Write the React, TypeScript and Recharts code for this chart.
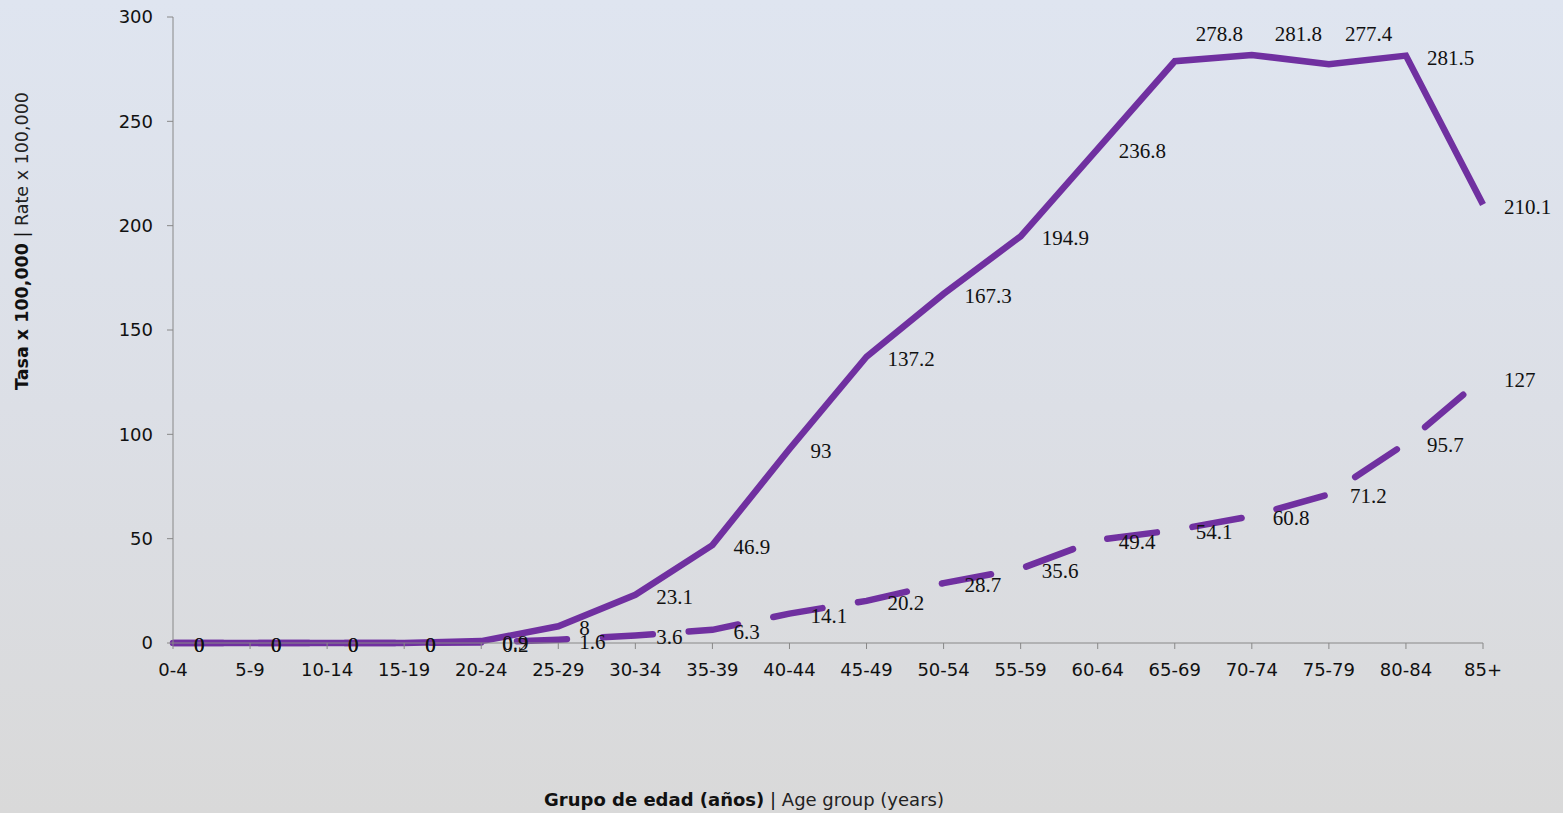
import React from "react";
import { LineChart, Line, XAxis, YAxis } from "recharts";

const categories = ["0-4", "5-9", "10-14", "15-19", "20-24", "25-29", "30-34", "35-39", "40-44", "45-49", "50-54", "55-59", "60-64", "65-69", "70-74", "75-79", "80-84", "85+"];
const solidValues = [0, 0, 0, 0, 0.9, 8, 23.1, 46.9, 93, 137.2, 167.3, 194.9, 236.8, 278.8, 281.8, 277.4, 281.5, 210.1];
const dashedValues = [0, 0, 0, 0, 0.2, 1.6, 3.6, 6.3, 14.1, 20.2, 28.7, 35.6, 49.4, 54.1, 60.8, 71.2, 95.7, 127];
const yTicks = [0, 50, 100, 150, 200, 250, 300];

const data = categories.map((c, i) => ({ cat: c, solid: solidValues[i], dashed: dashedValues[i] }));

const PURPLE = "#7030A0";
const AXIS = "#888888";
const TICK_FONT = "'DejaVu Sans', sans-serif";
const LABEL_FONT = "'Liberation Serif', 'Times New Roman', serif";

// label shifts for the plateau labels of the solid series (style only)
const solidLabelDy: Record<number, number> = { 13: -29, 14: -23, 15: -32 };
const solidLabelDx: Record<number, number> = { 14: 2, 15: -5 };

const makeLabel = (dyMap: Record<number, number>, dxMap: Record<number, number>) => (props: any) => {
  const { x, y, value, index } = props;
  const dy = dyMap[index] ?? 0;
  const dx = dxMap[index] ?? 0;
  return (
    <text
      x={x + 21 + dx}
      y={y + 9 + dy}
      textAnchor="start"
      fontFamily={LABEL_FONT}
      fontSize={21}
      fill="#111"
    >
      {value}
    </text>
  );
};

const XTitle = () => {
  return (
    <text x={744} y={806} textAnchor="middle" fontFamily={TICK_FONT} fontSize={18} fill="#111">
      <tspan fontWeight="bold">Grupo de edad (años)</tspan>
      <tspan fontWeight="normal">{"  |  "}</tspan>
      <tspan fontWeight="normal" fill="#222">Age group (years)</tspan>
    </text>
  );
};

const YTitle = () => {
  const cx = 28;
  const cy = 241;
  return (
    <text
      x={cx}
      y={cy}
      transform={`rotate(-90 ${cx} ${cy})`}
      textAnchor="middle"
      fontFamily={TICK_FONT}
      fontSize={17.5}
      fill="#111"
    >
      <tspan fontWeight="bold">Tasa x 100,000</tspan>
      <tspan fontWeight="normal">{"  |  "}</tspan>
      <tspan fontWeight="normal" fill="#222">Rate x 100,000</tspan>
    </text>
  );
};

export default function App() {
  return (
    <div
      style={{
        position: "absolute",
        left: 0,
        top: 0,
        width: 1563,
        height: 813,
        background: "linear-gradient(to bottom, #dfe5f0 0%, #dcdfe6 50%, #d9d9d9 100%)",
      }}
    >
      <LineChart
        width={1563}
        height={813}
        data={data}
        margin={{ top: 17, right: 80, left: 113, bottom: 140 }}
      >
        <XAxis
          dataKey="cat"
          interval={0}
          stroke={AXIS}
          tickLine={{ stroke: AXIS }}
          tickSize={6}
          tickMargin={14}
          height={30}
          tick={{ fontFamily: TICK_FONT, fontSize: 18, fill: "#111" }}
          label={<XTitle />}
        />
        <YAxis
          domain={[0, 300]}
          ticks={yTicks}
          width={60}
          stroke={AXIS}
          tickLine={{ stroke: AXIS }}
          tickSize={6}
          tickMargin={14}
          tick={{ fontFamily: TICK_FONT, fontSize: 18, fill: "#111" }}
          label={<YTitle />}
        />
        <Line
          dataKey="dashed"
          stroke={PURPLE}
          strokeWidth={6.5}
          strokeDasharray="50 36"
          strokeLinecap="round"
          dot={false}
          isAnimationActive={false}
          label={makeLabel({}, {})}
        />
        <Line
          dataKey="solid"
          stroke={PURPLE}
          strokeWidth={6.5}
          dot={false}
          isAnimationActive={false}
          label={makeLabel(solidLabelDy, solidLabelDx)}
        />
      </LineChart>
    </div>
  );
}
